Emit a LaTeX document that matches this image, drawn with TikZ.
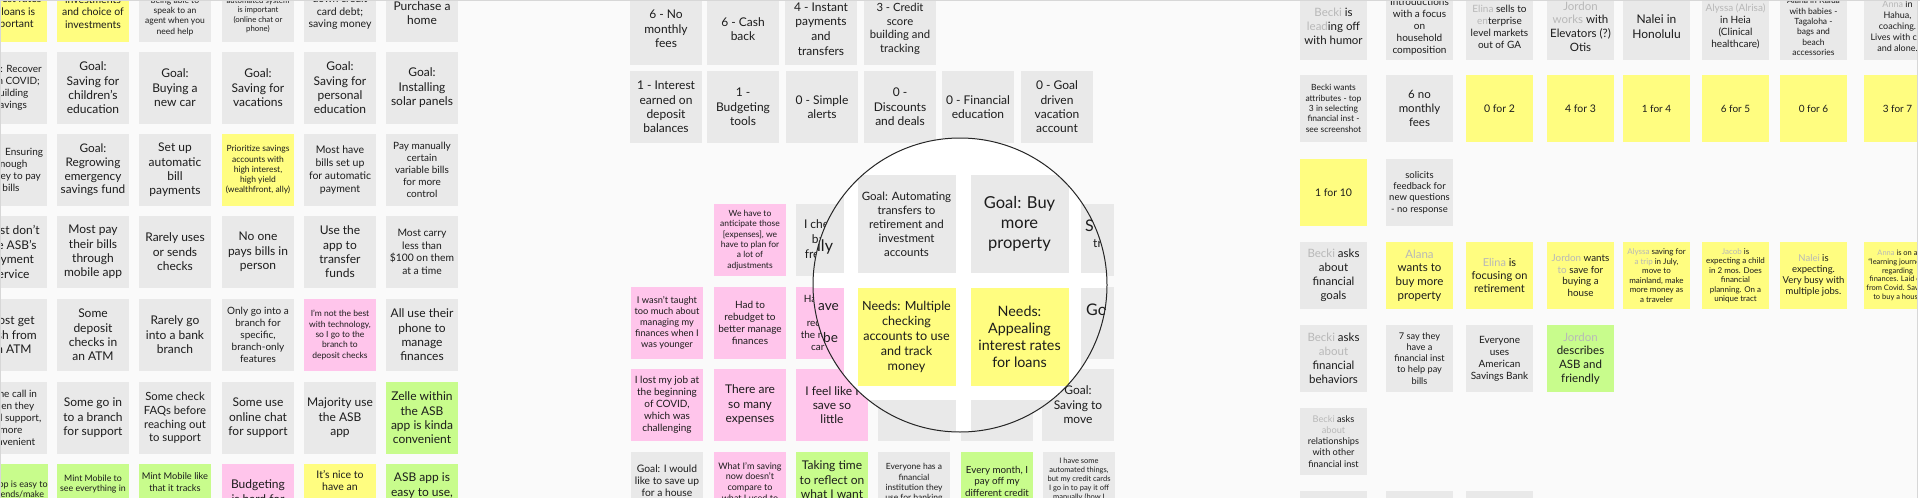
\documentclass[tikz,border=0pt]{standalone}
\usepackage{fontspec}
\setmainfont{Lato}
\definecolor{bg}{RGB}{250,250,250}
\definecolor{gn}{RGB}{233,233,233}
\definecolor{yn}{RGB}{255,253,128}
\definecolor{pn}{RGB}{255,197,235}
\definecolor{grn}{RGB}{200,252,140}
\definecolor{ink}{RGB}{28,28,28}
\definecolor{edge}{RGB}{215,215,215}
\newcommand\blr[1]{{\color{black!28}#1}}
\newcommand\fs[2]{\fontsize{#1}{#2}\selectfont}
\newcommand\ph{\phantom{Xg}}
\begin{document}
\begin{tikzpicture}[x=1pt,y=-1pt,
  base/.style={rectangle, inner sep=0pt, outer sep=0pt, anchor=north west, align=center, text=ink},
  lb/.style={base, minimum width=72pt, minimum height=72pt},
  rb/.style={base, minimum width=67pt, minimum height=67pt},
  gb/.style={base, minimum width=98pt, minimum height=98pt},
  gy/.style={fill=gn}, yw/.style={fill=yn}, pk/.style={fill=pn}, gr/.style={fill=grn},
  fA/.style={font=\fs{12}{14.4}},
  fAb/.style={font=\fs{11.5}{13.8}},
  fB/.style={font=\fs{10.5}{12.3}},
  fC/.style={font=\fs{10}{12}},
  fE/.style={font=\fs{9.2}{11}},
  fD/.style={font=\fs{8.5}{10.3}},
  fF/.style={font=\fs{7.5}{9}},
  frag/.style={inner sep=0pt, anchor=west, text=ink},
  lens/.style={draw=black!85, line width=1pt}
]
\useasboundingbox (0,0) rectangle (1920,498);
\fill[bg] (0,0) rectangle (1920,498);
\begin{scope}
\clip (0,0) rectangle (1917,498);
% ================= LEFT CLUSTER =================
% row 0
\node[lb,yw,fB] (l00) at (-25,-30) {\ph\\Interest rates\\on loans is\\important};
\node[lb,yw,fB] (l01) at (57,-30) {\ph\\investments\\and choice of\\investments};
\node[lb,gy,fD] (l02) at (139,-30) {\ph\\\ph\\being able to\\speak to an\\agent when you\\need help};
\node[lb,gy,font=\fs{7.8}{9.3}] (l03) at (222,-30) {\ph\\\ph\\automated system\\is important\\(online chat or\\phone)};
\node[lb,gy,fB] (l04) at (304,-30) {Goal: Paying\\down credit\\card debt;\\saving money};
\node[lb,gy,fA] (l05) at (386,-30) {Goal:\\Purchase a\\home};
% row 1
\node[lb,gy,fC] (l10) at (-25,52) {Goal: Recover\\from COVID;\\building\\savings};
\node[lb,gy,fA] (l11) at (57,52) {Goal:\\Saving for\\children's\\education};
\node[lb,gy,fA] (l12) at (139,52) {Goal:\\Buying a\\new car};
\node[lb,gy,fA] (l13) at (222,52) {Goal:\\Saving for\\vacations};
\node[lb,gy,fA] (l14) at (304,52) {Goal:\\Saving for\\personal\\education};
\node[lb,gy,fA] (l15) at (386,52) {Goal:\\Installing\\solar panels};
% row 2
\node[lb,gy,fC] (l20) at (-25,134) {Goal: Ensuring\\enough\\money to pay\\bills};
\node[lb,gy,font=\fs{11.8}{13.8}] (l21) at (57,134) {Goal:\\Regrowing\\emergency\\savings fund};
\node[lb,gy,fA] (l22) at (139,134) {Set up\\automatic\\bill\\payments};
\node[lb,yw,fD] (l23) at (222,134) {Prioritize savings\\accounts with\\high interest,\\high yield\\(wealthfront, ally)};
\node[lb,gy,font=\fs{10.5}{12.8}] (l24) at (304,134) {Most have\\bills set up\\for automatic\\payment};
\node[lb,gy,fC] (l25) at (386,134) {Pay manually\\certain\\variable bills\\for more\\control};
% row 3
\node[lb,gy,fA] (l30) at (-25,216) {Most don't\\use ASB's\\payment\\service};
\node[lb,gy,fA] (l31) at (57,216) {Most pay\\their bills\\through\\mobile app};
\node[lb,gy,fA] (l32) at (139,216) {Rarely uses\\or sends\\checks};
\node[lb,gy,fA] (l33) at (222,216) {No one\\pays bills in\\person};
\node[lb,gy,fA] (l34) at (304,216) {Use the\\app to\\transfer\\funds};
\node[lb,gy,font=\fs{10.3}{12.6}] (l35) at (386,216) {Most carry\\less than\\\$100 on them\\at a time};
% row 4
\node[lb,gy,fA] (l40) at (-25,299) {Most get\\cash from\\an ATM};
\node[lb,gy,fA] (l41) at (57,299) {Some\\deposit\\checks in\\an ATM};
\node[lb,gy,fA] (l42) at (139,299) {Rarely go\\into a bank\\branch};
\node[lb,gy,fC] (l43) at (222,299) {Only go into a\\branch for\\specific,\\branch-only\\features};
\node[lb,pk,fD] (l44) at (304,299) {I'm not the best\\with technology,\\so I go to the\\branch to\\deposit checks};
\node[lb,gy,fA] (l45) at (386,299) {All use their\\phone to\\manage\\finances};
% row 5
\node[lb,gy,fC] (l50) at (-25,382) {Some call in\\when they\\need support,\\more\\convenient};
\node[lb,gy,fA] (l51) at (57,382) {Some go in\\to a branch\\for support};
\node[lb,gy,font=\fs{11.3}{13.8}] (l52) at (139,382) {Some check\\FAQs before\\reaching out\\to support};
\node[lb,gy,fA] (l53) at (222,382) {Some use\\online chat\\for support};
\node[lb,gy,fA] (l54) at (304,382) {Majority use\\the ASB\\app};
\node[lb,gr,fA] (l55) at (386,382) {Zelle within\\the ASB\\app is kinda\\convenient};
% row 6
\node[lb,gr,font=\fs{9}{10}] (l60) at (-25,464) {ASB app is easy to\\use, sends/make\\\ph\\\ph};
\node[lb,gr,font=\fs{8.8}{10.7}] (l61) at (57,464) {Mint Mobile to\\see everything in\\\ph\\\ph\\\ph};
\node[lb,gr,font=\fs{9.3}{11.3}] (l62) at (139,464) {Mint Mobile like\\that it tracks\\\ph\\\ph\\\ph};
\node[lb,pk,fA] (l63) at (222,464) {Budgeting\\is hard for\\\ph};
\node[lb,yw,fB] (l64) at (304,464) {It's nice to\\have an\\\ph\\\ph\\\ph};
\node[lb,gr,fA] (l65) at (386,464) {ASB app is\\easy to use,\\\ph\\\ph};
% ================= MIDDLE CLUSTER: scores =================
\node[lb,gy,fA] (ma1) at (630,-7) {6 - No\\monthly\\fees};
\node[lb,gy,fA] (ma2) at (707,-7) {6 - Cash\\back};
\node[lb,gy,font=\fs{12}{14.6}] (ma3) at (785,-7) {4 - Instant\\payments\\and\\transfers};
\node[lb,gy,font=\fs{11.3}{13.5}] (ma4) at (864,-7) {3 - Credit\\score\\building and\\tracking};
\node[lb,gy,fA] (mb1) at (630,71) {1 - Interest\\earned on\\deposit\\balances};
\node[lb,gy,fA] (mb2) at (707,71) {1 -\\Budgeting\\tools};
\node[lb,gy,fA] (mb3) at (786,71) {0 - Simple\\alerts};
\node[lb,gy,fA] (mb4) at (864,71) {0 -\\Discounts\\and deals};
\node[lb,gy,fA] (mb5) at (942,71) {0 - Financial\\education};
\node[lb,gy,fA] (mb6) at (1021,71) {0 - Goal\\driven\\vacation\\account};
% ================= MIDDLE CLUSTER: lower grid =================
\node[lb,pk,fD] (mc1) at (714,204) {We have to\\anticipate those\\{[expenses]}, we\\have to plan for\\a lot of\\adjustments};
\node[lb,gy,font=\fs{12}{15}] (mc2) at (796,204) {I check my\\balance\\frequently};
\node[lb,gy] (mc5) at (1042,204) {};
\node[lb,pk,font=\fs{9.3}{11.1}] (md0) at (631,287) {I wasn't taught\\too much about\\managing my\\finances when I\\was younger};
\node[lb,pk,fC] (md1) at (714,287) {Had to\\rebudget to\\better manage\\finances};
\node[lb,pk,fC] (md2) at (796,287) {Have to save\\up\\recently for\\the repairs my\\car needs};
\node[lb,gy] (md5) at (1042,287) {};
\node[lb,pk,fC] (me0) at (631,369) {I lost my job at\\the beginning\\of COVID,\\which was\\challenging};
\node[lb,pk,font=\fs{12}{14.5}] (me1) at (714,369) {There are\\so many\\expenses};
\node[lb,pk,font=\fs{12}{14.3}] (me2) at (796,369) {I feel like I\\save so\\little};
\node[lb,gy] (me3) at (878,369) {};
\node[lb,gy] (me4) at (961,369) {};
\node[lb,gy,font=\fs{12}{14.5}] (me5) at (1042,369) {Goal:\\Saving to\\move};
\node[lb,gy,font=\fs{10.3}{12.2}] (mf0) at (631,452) {Goal: I would\\like to save up\\for a house\\\ph};
\node[lb,pk,font=\fs{9}{10.7}] (mf1) at (714,452) {What I'm saving\\now doesn't\\compare to\\what I used to\\\ph};
\node[lb,gr,font=\fs{12}{14.5}] (mf2) at (796,452) {Taking time\\to reflect on\\what I want\\\ph};
\node[lb,gy,fD] (mf3) at (878,452) {Everyone has a\\financial\\institution they\\use for banking\\\ph};
\node[lb,gr,font=\fs{9.8}{11.7}] (mf4) at (961,452) {Every month, I\\pay off my\\different credit\\\ph};
\node[lb,gy,fF] (mf5) at (1043,452) {I have some\\automated things,\\but my credit cards\\I go in to pay it off\\manually (how I\\\ph\\\ph};
% ================= MAGNIFIER =================
\begin{scope}
\clip (960,285) circle (147);
\fill[white] (960,285) circle (147);
\node[gb,gy] (gc2) at (746,175) {};
\node[gb,gy,font=\fs{11.5}{14}] (gc3) at (857.5,175) {Goal: Automating\\transfers to\\retirement and\\investment\\accounts};
\node[gb,gy,font=\fs{16.5}{19.7}] (gc4) at (970.5,175) {Goal: Buy\\more\\property};
\node[gb,gy] (gc5) at (1080.5,175) {};
\node[gb,pk] (gd2) at (746,288) {};
\node[gb,yw,font=\fs{12.6}{15.2}] (gd3) at (857.5,288) {Needs: Multiple\\checking\\accounts to use\\and track\\money};
\node[gb,yw,font=\fs{14.3}{17.1}] (gd4) at (970.5,288) {Needs:\\Appealing\\interest rates\\for loans};
\node[gb,gy] (gd5) at (1080.5,288) {};
\node[gb,gy] (ge3) at (857.5,399.5) {};
\node[gb,gy] (ge4) at (970.5,399.5) {};
\node[frag,font=\fs{16}{16}] (fr1) at (817,247) {lly};
\node[frag,font=\fs{13.6}{13.6}] (fr2) at (818,307) {ave};
\node[frag,font=\fs{13.6}{13.6}] (fr3) at (823,338) {be};
\node[frag,font=\fs{16}{16}] (fr4) at (1085,226) {S};
\node[frag,font=\fs{12}{12}] (fr5) at (1093,244) {tr};
\node[frag,font=\fs{16}{16}] (fr6) at (1086,310) {Go};
\node[frag,font=\fs{11}{11}] (fr7) at (1096,344) {se};
\end{scope}
\draw[lens] (960,285) circle (147);
% ================= RIGHT CLUSTER =================
% row 1
\node[rb,gy,fAb] (r10) at (1300,-7) {\blr{Becki} is\\\blr{lead}ing off\\with humor};
\node[rb,gy,fC] (r11) at (1386,-7) {Introductions\\with a focus\\on\\household\\composition};
\node[rb,gy,fC] (r12) at (1466,-7) {\blr{Elina} sells to\\\blr{en}terprise\\level markets\\out of GA};
\node[rb,gy,font=\fs{11.5}{13.6}] (r13) at (1547,-7) {\blr{Jordon}\\\blr{works} with\\Elevators (?)\\Otis};
\node[rb,gy,fA] (r14) at (1623,-7) {Nalei in\\Honolulu};
\node[rb,gy,fC] (r15) at (1702,-7) {\blr{Alyssa (Alrisa)}\\in Heia\\(Clinical\\healthcare)};
\node[rb,gy,fD] (r16) at (1780,-7) {Alana in Kalua\\with babies -\\Tagaloha -\\bags and\\beach\\accessories};
\node[rb,gy,font=\fs{9}{11}] (r17) at (1864,-7) {\blr{Anna} in\\Hahua,\\coaching.\\Lives with cat\\and alone.};
% row 2
\node[rb,gy,fD] (r20) at (1300,75) {Becki wants\\attributes - top\\3 in selecting\\financial inst -\\see screenshot};
\node[rb,gy,font=\fs{11.5}{13.7}] (r21) at (1386,75) {6 no\\monthly\\fees};
\node[rb,yw,fB] (r22) at (1466,75) {0 for 2};
\node[rb,yw,fB] (r23) at (1547,75) {4 for 3};
\node[rb,yw,fC] (r24) at (1623,75) {1 for 4};
\node[rb,yw,fC] (r25) at (1702,75) {6 for 5};
\node[rb,yw,fC] (r26) at (1780,75) {0 for 6};
\node[rb,yw,fC] (r27) at (1864,75) {3 for 7};
% row 3
\node[rb,yw,fB] (r30) at (1300,159) {1 for 10};
\node[rb,gy,font=\fs{9.5}{11.4}] (r31) at (1386,159) {solicits\\feedback for\\new questions\\- no response};
% row 4
\node[rb,gy,fAb] (r40) at (1300,242) {\blr{Becki} asks\\about\\financial\\goals};
\node[rb,yw,fAb] (r41) at (1386,242) {\blr{Alana}\\wants to\\buy more\\property};
\node[rb,yw,font=\fs{11}{13.3}] (r42) at (1466,242) {\blr{Elina} is\\focusing on\\retirement};
\node[rb,yw,font=\fs{9.8}{11.8}] (r43) at (1547,242) {\blr{Jordon} wants\\\blr{to} save for\\buying a\\house};
\node[rb,yw,font=\fs{8}{9.5}] (r44) at (1623,242) {\blr{Alyssa} saving for\\\blr{a trip} in July,\\move to\\mainland, make\\more money as\\a traveler};
\node[rb,yw,font=\fs{8}{9.5}] (r45) at (1702,242) {\blr{Jacob} is\\expecting a child\\in 2 mos. Does\\financial\\planning. On a\\unique tract};
\node[rb,yw,font=\fs{9.5}{11}] (r46) at (1780,242) {\blr{Nalei} is\\expecting.\\Very busy with\\multiple jobs.};
\node[rb,yw,font=\fs{7.5}{8.7}] (r47) at (1864,242) {\blr{Anna} is on a\\``learning journey''\\regarding\\finances. Laid off\\from Covid. Saving\\to buy a house};
% row 5
\node[rb,gy,fAb] (r50) at (1300,325) {\blr{Becki} asks\\\blr{about}\\financial\\behaviors};
\node[rb,gy,font=\fs{9.2}{11.1}] (r51) at (1386,325) {7 say they\\have a\\financial inst\\to help pay\\bills};
\node[rb,gy,fC] (r52) at (1466,325) {Everyone\\uses\\American\\Savings Bank};
\node[rb,gr,fAb] (r53) at (1547,325) {\blr{Jordon}\\describes\\ASB and\\friendly};
% row 6
\node[rb,gy,font=\fs{9.2}{11.1}] (r60) at (1300,408) {\blr{Becki} asks\\\blr{about}\\relationships\\with other\\financial inst};
% row 7
\node[rb,gy] (r70) at (1300,491) {};
\node[rb,gy] (r71) at (1386,491) {};
\node[rb,gy] (r72) at (1466,491) {};
\end{scope}
% frame edges
\fill[white] (1917,0) rectangle (1920,498);
\draw[edge, line width=1pt] (1917.5,0) -- (1917.5,498);
\draw[edge, line width=1.2pt] (0,0.6) -- (1920,0.6);
\draw[edge, line width=1pt] (0.5,0) -- (0.5,498);
\end{tikzpicture}
\end{document}
